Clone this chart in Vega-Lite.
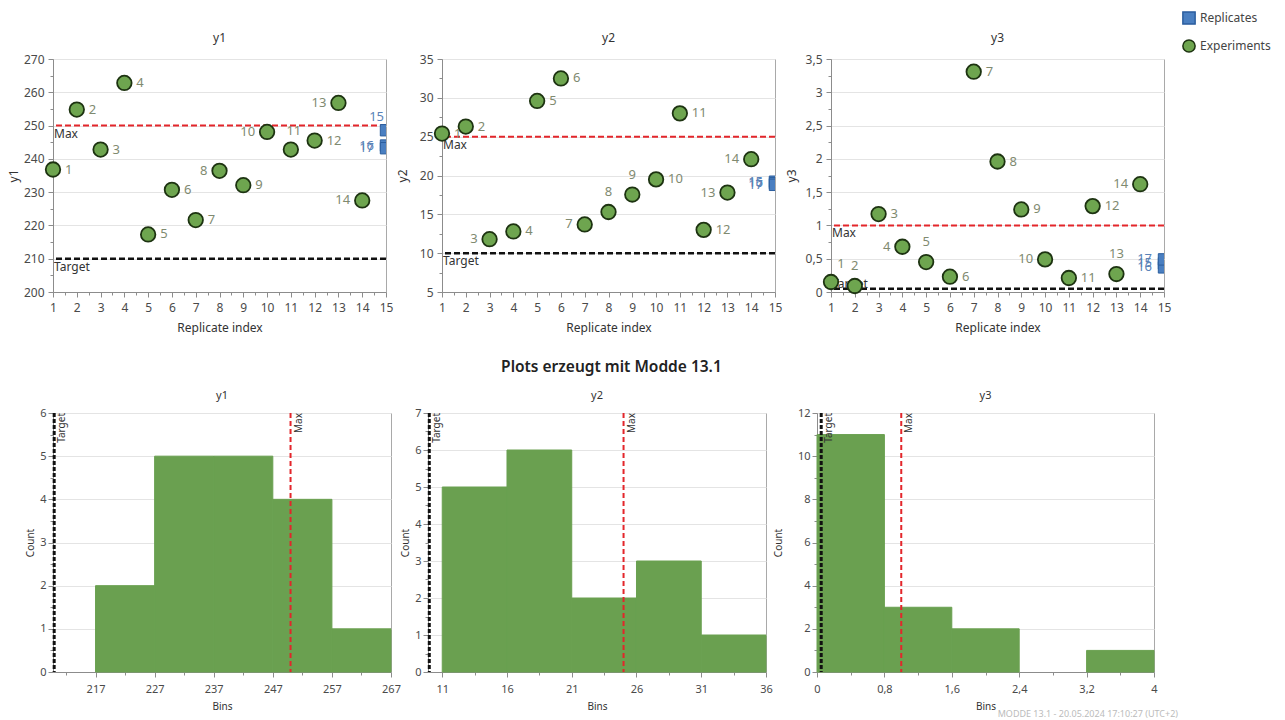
{
  "$schema": "https://vega.github.io/schema/vega-lite/v6.json",
  "padding": {"left": 6, "top": 11, "right": 5, "bottom": 0},
  "background": "white",
  "datasets": {
    "pts": [
      {"run": 1, "idx": 1, "type": "Experiments", "y1": 236.8, "y2": 25.4, "y3": 0.15},
      {"run": 2, "idx": 2, "type": "Experiments", "y1": 254.8, "y2": 26.3, "y3": 0.09},
      {"run": 3, "idx": 3, "type": "Experiments", "y1": 242.8, "y2": 11.8, "y3": 1.17},
      {"run": 4, "idx": 4, "type": "Experiments", "y1": 262.8, "y2": 12.8, "y3": 0.68},
      {"run": 5, "idx": 5, "type": "Experiments", "y1": 217.3, "y2": 29.6, "y3": 0.45},
      {"run": 6, "idx": 6, "type": "Experiments", "y1": 230.7, "y2": 32.5, "y3": 0.23},
      {"run": 7, "idx": 7, "type": "Experiments", "y1": 221.6, "y2": 13.7, "y3": 3.31},
      {"run": 8, "idx": 8, "type": "Experiments", "y1": 236.4, "y2": 15.3, "y3": 1.96},
      {"run": 9, "idx": 9, "type": "Experiments", "y1": 232.1, "y2": 17.55, "y3": 1.24},
      {"run": 10, "idx": 10, "type": "Experiments", "y1": 248.1, "y2": 19.5, "y3": 0.49},
      {"run": 11, "idx": 11, "type": "Experiments", "y1": 242.8, "y2": 28.0, "y3": 0.21},
      {"run": 12, "idx": 12, "type": "Experiments", "y1": 245.5, "y2": 13.0, "y3": 1.29},
      {"run": 13, "idx": 13, "type": "Experiments", "y1": 256.8, "y2": 17.8, "y3": 0.27},
      {"run": 14, "idx": 14, "type": "Experiments", "y1": 227.5, "y2": 22.1, "y3": 1.62},
      {"run": 15, "idx": 15, "type": "Replicates", "y1": 248.6, "y2": 19.2, "y3": 0.43},
      {"run": 16, "idx": 15, "type": "Replicates", "y1": 244.0, "y2": 19.0, "y3": 0.37},
      {"run": 17, "idx": 15, "type": "Replicates", "y1": 243.2, "y2": 18.8, "y3": 0.49}
    ],
    "limits": [
      {"resp": "y1", "target": 210, "max": 250, "top": 6},
      {"resp": "y2", "target": 10, "max": 25, "top": 7},
      {"resp": "y3", "target": 0.05, "max": 1, "top": 12}
    ],
    "bins": [
      {"resp": "y1", "lo": 217, "hi": 227, "count": 2},
      {"resp": "y1", "lo": 227, "hi": 237, "count": 5},
      {"resp": "y1", "lo": 237, "hi": 247, "count": 5},
      {"resp": "y1", "lo": 247, "hi": 257, "count": 4},
      {"resp": "y1", "lo": 257, "hi": 267, "count": 1},
      {"resp": "y2", "lo": 11, "hi": 16, "count": 5},
      {"resp": "y2", "lo": 16, "hi": 21, "count": 6},
      {"resp": "y2", "lo": 21, "hi": 26, "count": 2},
      {"resp": "y2", "lo": 26, "hi": 31, "count": 3},
      {"resp": "y2", "lo": 31, "hi": 36, "count": 1},
      {"resp": "y3", "lo": 0, "hi": 0.8, "count": 11},
      {"resp": "y3", "lo": 0.8, "hi": 1.6, "count": 3},
      {"resp": "y3", "lo": 1.6, "hi": 2.4, "count": 2},
      {"resp": "y3", "lo": 2.4, "hi": 3.2, "count": 0},
      {"resp": "y3", "lo": 3.2, "hi": 4, "count": 1}
    ]
  },
  "config": {
    "font": "Noto Sans",
    "view": {"stroke": "#a9a9a9", "strokeWidth": 1},
    "axis": {"domainColor": "#8c8c8c", "tickColor": "#8c8c8c", "labelColor": "#4a4a4a", "titleColor": "#333333", "gridColor": "#e4e4e4", "labelFontSize": 12, "titleFontSize": 12, "titleFontWeight": "normal", "labelPadding": 2, "titlePadding": 4},
    "title": {"fontSize": 12, "fontWeight": "normal", "color": "#333333"},
    "legend": {"labelFontSize": 12, "labelColor": "#444444", "symbolSize": 150, "rowPadding": 8, "symbolStrokeWidth": 1.5}
  },
  "title": {"text": "MODDE 13.1 - 20.05.2024 17:10:27 (UTC+2)", "orient": "bottom", "anchor": "end", "fontSize": 9, "color": "#bbbbbb", "fontWeight": "normal", "offset": -2, "dx": -93},
  "spacing": 26,
  "vconcat": [
    {
      "spacing": 1,
      "hconcat": [
        {
          "width": 333, "height": 233,
          "title": {"text": "y1", "offset": 8},
          "layer": [
            {"data": {"name": "limits"}, "transform": [{"filter": "datum.resp=='y1'"}],
             "mark": {"type": "rule", "color": "#111111", "strokeDash": [6, 3], "strokeWidth": 2.5},
             "encoding": {"y": {"field": "target", "type": "quantitative", "scale": {"domain": [200, 270], "nice": false, "zero": false},
               "axis": {"title": "y1", "values": [200,205,210,215,220,225,230,235,240,245,250,255,260,265,270], "tickCount": 100, "format": ".4~g", "labelExpr": "datum.value % 10 ? '' : datum.label", "labelOverlap": false, "labelFlush": false, "labelPadding": 4, "minExtent": 27, "maxExtent": 27, "titlePadding": 6, "tickSize": {"condition": {"test": "datum.value % 10 != 0", "value": 3}, "value": 5}, "grid": true, "gridOpacity": {"condition": {"test": "datum.value % 10 != 0", "value": 0}, "value": 1}}}}},
            {"data": {"name": "limits"}, "transform": [{"filter": "datum.resp=='y1'"}],
             "mark": {"type": "rule", "color": "#e3262b", "strokeDash": [6, 3], "strokeWidth": 2},
             "encoding": {"y": {"field": "max", "type": "quantitative"}}},
            {"data": {"name": "limits"}, "transform": [{"filter": "datum.resp=='y1'"}],
             "mark": {"type": "text", "align": "left", "baseline": "top", "dx": 1, "dy": 3, "fontSize": 12, "color": "#333333"},
             "encoding": {"x": {"datum": 1, "type": "quantitative"}, "y": {"field": "max", "type": "quantitative"}, "text": {"value": "Max"}}},
            {"data": {"name": "limits"}, "transform": [{"filter": "datum.resp=='y1'"}],
             "mark": {"type": "text", "align": "left", "baseline": "top", "dx": 1, "dy": 3, "fontSize": 12, "color": "#333333"},
             "encoding": {"x": {"datum": 1, "type": "quantitative"}, "y": {"field": "target", "type": "quantitative"}, "text": {"value": "Target"}}},
            {"data": {"name": "pts"}, "transform": [{"filter": "datum.type=='Experiments'"}],
             "mark": {"type": "point", "filled": true, "size": 210, "fill": "#6ea54f", "stroke": "#1d3311", "strokeWidth": 1.8, "opacity": 1},
             "encoding": {"x": {"field": "idx", "type": "quantitative", "scale": {"domain": [1, 15], "nice": false, "zero": false},
               "axis": {"title": "Replicate index", "values": [1,1.5,2,2.5,3,3.5,4,4.5,5,5.5,6,6.5,7,7.5,8,8.5,9,9.5,10,10.5,11,11.5,12,12.5,13,13.5,14,14.5,15], "tickCount": 100, "format": ".4~g", "labelExpr": "datum.value % 1 ? '' : datum.label", "labelOverlap": false, "labelFlush": false, "labelPadding": 5, "titlePadding": 9, "tickSize": {"condition": {"test": "datum.value % 1 != 0", "value": 3}, "value": 5}, "grid": false}},
               "y": {"field": "y1", "type": "quantitative", "scale": {"domain": [200, 270], "nice": false, "zero": false}}}},
            {"data": {"name": "pts"}, "transform": [{"filter": "datum.type=='Replicates'"}],
             "mark": {"type": "square", "size": 130, "fill": "#4a7fc1", "stroke": "#2b5e9e", "strokeWidth": 1, "opacity": 1, "clip": true},
             "encoding": {"x": {"field": "idx", "type": "quantitative"}, "y": {"field": "y1", "type": "quantitative"}}},
            {"data": {"name": "pts"}, "transform": [{"filter": "indexof([1,2,3,4,5,6,7,9,12], datum.run) >= 0"}],
             "mark": {"type": "text", "align": "left", "baseline": "middle", "dx": 12, "fontSize": 13},
             "encoding": {"x": {"field": "idx", "type": "quantitative"}, "y": {"field": "y1", "type": "quantitative"}, "text": {"field": "run", "type": "nominal"}, "color": {"condition": {"test": "datum.type=='Replicates'", "value": "#5a83b8"}, "value": "#7f8a70"}}},
            {"data": {"name": "pts"}, "transform": [{"filter": "indexof([8,10,13,14,16,17], datum.run) >= 0"}],
             "mark": {"type": "text", "align": "right", "baseline": "middle", "dx": -12, "fontSize": 13},
             "encoding": {"x": {"field": "idx", "type": "quantitative"}, "y": {"field": "y1", "type": "quantitative"}, "text": {"field": "run", "type": "nominal"}, "color": {"condition": {"test": "datum.type=='Replicates'", "value": "#5a83b8"}, "value": "#7f8a70"}}},
            {"data": {"name": "pts"}, "transform": [{"filter": "indexof([11], datum.run) >= 0"}],
             "mark": {"type": "text", "align": "center", "baseline": "middle", "dx": 3, "dy": -19, "fontSize": 13},
             "encoding": {"x": {"field": "idx", "type": "quantitative"}, "y": {"field": "y1", "type": "quantitative"}, "text": {"field": "run", "type": "nominal"}, "color": {"condition": {"test": "datum.type=='Replicates'", "value": "#5a83b8"}, "value": "#7f8a70"}}},
            {"data": {"name": "pts"}, "transform": [{"filter": "indexof([15], datum.run) >= 0"}],
             "mark": {"type": "text", "align": "right", "baseline": "middle", "dx": -2, "dy": -13, "fontSize": 13},
             "encoding": {"x": {"field": "idx", "type": "quantitative"}, "y": {"field": "y1", "type": "quantitative"}, "text": {"field": "run", "type": "nominal"}, "color": {"condition": {"test": "datum.type=='Replicates'", "value": "#5a83b8"}, "value": "#7f8a70"}}}
          ]
        },
        {
          "width": 333, "height": 233,
          "title": {"text": "y2", "offset": 8},
          "layer": [
            {"data": {"name": "limits"}, "transform": [{"filter": "datum.resp=='y2'"}],
             "mark": {"type": "rule", "color": "#111111", "strokeDash": [6, 3], "strokeWidth": 2.5},
             "encoding": {"y": {"field": "target", "type": "quantitative", "scale": {"domain": [5, 35], "nice": false, "zero": false},
               "axis": {"title": "y2", "values": [5,7.5,10,12.5,15,17.5,20,22.5,25,27.5,30,32.5,35], "tickCount": 100, "format": ".4~g", "labelExpr": "datum.value % 5 ? '' : datum.label", "labelOverlap": false, "labelFlush": false, "labelPadding": 4, "minExtent": 27, "maxExtent": 27, "titlePadding": 6, "tickSize": {"condition": {"test": "datum.value % 5 != 0", "value": 3}, "value": 5}, "grid": true, "gridOpacity": {"condition": {"test": "datum.value % 5 != 0", "value": 0}, "value": 1}}}}},
            {"data": {"name": "limits"}, "transform": [{"filter": "datum.resp=='y2'"}],
             "mark": {"type": "rule", "color": "#e3262b", "strokeDash": [6, 3], "strokeWidth": 2},
             "encoding": {"y": {"field": "max", "type": "quantitative"}}},
            {"data": {"name": "limits"}, "transform": [{"filter": "datum.resp=='y2'"}],
             "mark": {"type": "text", "align": "left", "baseline": "top", "dx": 1, "dy": 3, "fontSize": 12, "color": "#333333"},
             "encoding": {"x": {"datum": 1, "type": "quantitative"}, "y": {"field": "max", "type": "quantitative"}, "text": {"value": "Max"}}},
            {"data": {"name": "limits"}, "transform": [{"filter": "datum.resp=='y2'"}],
             "mark": {"type": "text", "align": "left", "baseline": "top", "dx": 1, "dy": 3, "fontSize": 12, "color": "#333333"},
             "encoding": {"x": {"datum": 1, "type": "quantitative"}, "y": {"field": "target", "type": "quantitative"}, "text": {"value": "Target"}}},
            {"data": {"name": "pts"}, "transform": [{"filter": "datum.type=='Experiments'"}],
             "mark": {"type": "point", "filled": true, "size": 210, "fill": "#6ea54f", "stroke": "#1d3311", "strokeWidth": 1.8, "opacity": 1},
             "encoding": {"x": {"field": "idx", "type": "quantitative", "scale": {"domain": [1, 15], "nice": false, "zero": false},
               "axis": {"title": "Replicate index", "values": [1,1.5,2,2.5,3,3.5,4,4.5,5,5.5,6,6.5,7,7.5,8,8.5,9,9.5,10,10.5,11,11.5,12,12.5,13,13.5,14,14.5,15], "tickCount": 100, "format": ".4~g", "labelExpr": "datum.value % 1 ? '' : datum.label", "labelOverlap": false, "labelFlush": false, "labelPadding": 5, "titlePadding": 9, "tickSize": {"condition": {"test": "datum.value % 1 != 0", "value": 3}, "value": 5}, "grid": false}},
               "y": {"field": "y2", "type": "quantitative", "scale": {"domain": [5, 35], "nice": false, "zero": false}}}},
            {"data": {"name": "pts"}, "transform": [{"filter": "datum.type=='Replicates'"}],
             "mark": {"type": "square", "size": 130, "fill": "#4a7fc1", "stroke": "#2b5e9e", "strokeWidth": 1, "opacity": 1, "clip": true},
             "encoding": {"x": {"field": "idx", "type": "quantitative"}, "y": {"field": "y2", "type": "quantitative"}}},
            {"data": {"name": "pts"}, "transform": [{"filter": "indexof([1,2,4,5,6,10,11,12], datum.run) >= 0"}],
             "mark": {"type": "text", "align": "left", "baseline": "middle", "dx": 12, "fontSize": 13},
             "encoding": {"x": {"field": "idx", "type": "quantitative"}, "y": {"field": "y2", "type": "quantitative"}, "text": {"field": "run", "type": "nominal"}, "color": {"condition": {"test": "datum.type=='Replicates'", "value": "#5a83b8"}, "value": "#7f8a70"}}},
            {"data": {"name": "pts"}, "transform": [{"filter": "indexof([3,7,13,14,15,16,17], datum.run) >= 0"}],
             "mark": {"type": "text", "align": "right", "baseline": "middle", "dx": -12, "fontSize": 13},
             "encoding": {"x": {"field": "idx", "type": "quantitative"}, "y": {"field": "y2", "type": "quantitative"}, "text": {"field": "run", "type": "nominal"}, "color": {"condition": {"test": "datum.type=='Replicates'", "value": "#5a83b8"}, "value": "#7f8a70"}}},
            {"data": {"name": "pts"}, "transform": [{"filter": "indexof([8,9], datum.run) >= 0"}],
             "mark": {"type": "text", "align": "center", "baseline": "middle", "dy": -20, "fontSize": 13},
             "encoding": {"x": {"field": "idx", "type": "quantitative"}, "y": {"field": "y2", "type": "quantitative"}, "text": {"field": "run", "type": "nominal"}, "color": {"condition": {"test": "datum.type=='Replicates'", "value": "#5a83b8"}, "value": "#7f8a70"}}}
          ]
        },
        {
          "width": 333, "height": 233,
          "title": {"text": "y3", "offset": 8},
          "layer": [
            {"data": {"name": "limits"}, "transform": [{"filter": "datum.resp=='y3'"}],
             "mark": {"type": "rule", "color": "#111111", "strokeDash": [6, 3], "strokeWidth": 2.5},
             "encoding": {"y": {"field": "target", "type": "quantitative", "scale": {"domain": [0, 3.5], "nice": false, "zero": false},
               "axis": {"title": "y3", "values": [0,0.25,0.5,0.75,1,1.25,1.5,1.75,2,2.25,2.5,2.75,3,3.25,3.5], "tickCount": 100, "format": ".2~f", "labelExpr": "(datum.value*4) % 2 ? '' : replace(datum.label, '.', ',')", "labelOverlap": false, "labelFlush": false, "labelPadding": 4, "minExtent": 27, "maxExtent": 27, "titlePadding": 6, "tickSize": {"condition": {"test": "(datum.value*4) % 2 != 0", "value": 3}, "value": 5}, "grid": true, "gridOpacity": {"condition": {"test": "(datum.value*4) % 2 != 0", "value": 0}, "value": 1}}}}},
            {"data": {"name": "limits"}, "transform": [{"filter": "datum.resp=='y3'"}],
             "mark": {"type": "rule", "color": "#e3262b", "strokeDash": [6, 3], "strokeWidth": 2},
             "encoding": {"y": {"field": "max", "type": "quantitative"}}},
            {"data": {"name": "limits"}, "transform": [{"filter": "datum.resp=='y3'"}],
             "mark": {"type": "text", "align": "left", "baseline": "top", "dx": 1, "dy": 3, "fontSize": 12, "color": "#333333"},
             "encoding": {"x": {"datum": 1, "type": "quantitative"}, "y": {"field": "max", "type": "quantitative"}, "text": {"value": "Max"}}},
            {"data": {"name": "limits"}, "transform": [{"filter": "datum.resp=='y3'"}],
             "mark": {"type": "text", "align": "left", "baseline": "bottom", "dx": 1, "dy": 2, "fontSize": 12, "color": "#333333"},
             "encoding": {"x": {"datum": 1, "type": "quantitative"}, "y": {"field": "target", "type": "quantitative"}, "text": {"value": "Target"}}},
            {"data": {"name": "pts"}, "transform": [{"filter": "datum.type=='Experiments'"}],
             "mark": {"type": "point", "filled": true, "size": 210, "strokeWidth": 1.8, "opacity": 1},
             "encoding": {"x": {"field": "idx", "type": "quantitative", "scale": {"domain": [1, 15], "nice": false, "zero": false},
               "axis": {"title": "Replicate index", "values": [1,1.5,2,2.5,3,3.5,4,4.5,5,5.5,6,6.5,7,7.5,8,8.5,9,9.5,10,10.5,11,11.5,12,12.5,13,13.5,14,14.5,15], "tickCount": 100, "format": ".4~g", "labelExpr": "datum.value % 1 ? '' : datum.label", "labelOverlap": false, "labelFlush": false, "labelPadding": 5, "titlePadding": 9, "tickSize": {"condition": {"test": "datum.value % 1 != 0", "value": 3}, "value": 5}, "grid": false}},
               "y": {"field": "y3", "type": "quantitative", "scale": {"domain": [0, 3.5], "nice": false, "zero": false}},
               "color": {"field": "type", "type": "nominal", "scale": {"domain": ["Replicates", "Experiments"], "range": ["#4a7fc1", "#6ea54f"]}, "legend": {"title": null, "orient": "none", "legendX": 1129, "legendY": -48}},
               "shape": {"field": "type", "type": "nominal", "scale": {"domain": ["Replicates", "Experiments"], "range": ["square", "circle"]}},
               "stroke": {"field": "type", "type": "nominal", "scale": {"domain": ["Replicates", "Experiments"], "range": ["#2b5e9e", "#1d3311"]}}}},
            {"data": {"name": "pts"}, "transform": [{"filter": "datum.type=='Replicates'"}],
             "mark": {"type": "point", "filled": true, "size": 130, "strokeWidth": 1, "opacity": 1, "clip": true},
             "encoding": {"x": {"field": "idx", "type": "quantitative"}, "y": {"field": "y3", "type": "quantitative"},
               "color": {"field": "type", "type": "nominal"},
               "shape": {"field": "type", "type": "nominal"},
               "stroke": {"field": "type", "type": "nominal"}}},
            {"data": {"name": "pts"}, "transform": [{"filter": "indexof([3,6,7,8,9,11,12], datum.run) >= 0"}],
             "mark": {"type": "text", "align": "left", "baseline": "middle", "dx": 12, "fontSize": 13},
             "encoding": {"x": {"field": "idx", "type": "quantitative"}, "y": {"field": "y3", "type": "quantitative"}, "text": {"field": "run", "type": "nominal"}, "color": {"condition": {"test": "datum.type=='Replicates'", "value": "#5a83b8"}, "value": "#7f8a70"}}},
            {"data": {"name": "pts"}, "transform": [{"filter": "indexof([4,10,14,15,16,17], datum.run) >= 0"}],
             "mark": {"type": "text", "align": "right", "baseline": "middle", "dx": -12, "fontSize": 13},
             "encoding": {"x": {"field": "idx", "type": "quantitative"}, "y": {"field": "y3", "type": "quantitative"}, "text": {"field": "run", "type": "nominal"}, "color": {"condition": {"test": "datum.type=='Replicates'", "value": "#5a83b8"}, "value": "#7f8a70"}}},
            {"data": {"name": "pts"}, "transform": [{"filter": "indexof([2,5,13], datum.run) >= 0"}],
             "mark": {"type": "text", "align": "center", "baseline": "middle", "dy": -20, "fontSize": 13},
             "encoding": {"x": {"field": "idx", "type": "quantitative"}, "y": {"field": "y3", "type": "quantitative"}, "text": {"field": "run", "type": "nominal"}, "color": {"condition": {"test": "datum.type=='Replicates'", "value": "#5a83b8"}, "value": "#7f8a70"}}},
            {"data": {"name": "pts"}, "transform": [{"filter": "indexof([1], datum.run) >= 0"}],
             "mark": {"type": "text", "align": "center", "baseline": "middle", "dx": 10, "dy": -18, "fontSize": 13},
             "encoding": {"x": {"field": "idx", "type": "quantitative"}, "y": {"field": "y3", "type": "quantitative"}, "text": {"field": "run", "type": "nominal"}, "color": {"condition": {"test": "datum.type=='Replicates'", "value": "#5a83b8"}, "value": "#7f8a70"}}}
          ]
        }
      ]
    },
    {
      "spacing": -1,
      "title": {"text": "Plots erzeugt mit Modde 13.1", "fontSize": 15.5, "fontWeight": 600, "color": "#222222", "anchor": "middle", "offset": 14, "dx": 20},
      "hconcat": [
        {
          "width": 338, "height": 259,
          "title": {"text": "y1", "fontSize": 11, "offset": 6},
          "layer": [
            {"data": {"name": "bins"}, "transform": [{"filter": "datum.resp=='y1'"}],
             "mark": {"type": "bar", "fill": "#6aa050", "stroke": "#6aa050"},
             "encoding": {"x": {"field": "lo", "type": "quantitative", "scale": {"domain": [209.8, 267], "nice": false, "zero": false},
               "axis": {"title": "Bins", "titleFontSize": 10, "labelFontSize": 11, "values": [212,217,222,227,232,237,242,247,252,257,262,267], "tickCount": 100, "format": "d", "labelExpr": "(datum.value-217) % 10 ? '' : datum.label", "labelOverlap": false, "labelFlush": false, "labelPadding": 6, "titlePadding": 7, "tickSize": {"condition": {"test": "(datum.value-217) % 10 != 0", "value": 3}, "value": 5}, "grid": false}},
               "x2": {"field": "hi"},
               "y": {"field": "count", "type": "quantitative", "scale": {"domain": [0, 6], "nice": false},
                 "axis": {"title": "Count", "titleFontSize": 10, "labelFontSize": 11, "values": [0,0.5,1,1.5,2,2.5,3,3.5,4,4.5,5,5.5,6], "tickCount": 100, "format": ".2~f", "labelExpr": "datum.value % 1 ? '' : datum.label", "labelOverlap": false, "labelFlush": false, "tickSize": {"condition": {"test": "datum.value % 1 != 0", "value": 3}, "value": 5}, "grid": true, "gridOpacity": {"condition": {"test": "datum.value % 1 != 0", "value": 0}, "value": 1}}},
               "y2": {"datum": 0},
               "strokeWidth": {"condition": {"test": "datum.count == 0", "value": 0}, "value": 1}}},
            {"data": {"name": "limits"}, "transform": [{"filter": "datum.resp=='y1'"}],
             "mark": {"type": "rule", "color": "#111111", "strokeDash": [4, 2], "strokeWidth": 3},
             "encoding": {"x": {"field": "target", "type": "quantitative"}}},
            {"data": {"name": "limits"}, "transform": [{"filter": "datum.resp=='y1'"}],
             "mark": {"type": "rule", "color": "#e3262b", "strokeDash": [5, 3], "strokeWidth": 2},
             "encoding": {"x": {"field": "max", "type": "quantitative"}}},
            {"data": {"name": "limits"}, "transform": [{"filter": "datum.resp=='y1'"}],
             "mark": {"type": "text", "angle": 270, "align": "right", "baseline": "top", "dy": 3, "fontSize": 10, "color": "#333333"},
             "encoding": {"x": {"field": "target", "type": "quantitative"}, "y": {"field": "top", "type": "quantitative"}, "text": {"value": "Target"}}},
            {"data": {"name": "limits"}, "transform": [{"filter": "datum.resp=='y1'"}],
             "mark": {"type": "text", "angle": 270, "align": "right", "baseline": "top", "dy": 3, "fontSize": 10, "color": "#333333"},
             "encoding": {"x": {"field": "max", "type": "quantitative"}, "y": {"field": "top", "type": "quantitative"}, "text": {"value": "Max"}}}
          ]
        },
        {
          "width": 338, "height": 259,
          "title": {"text": "y2", "fontSize": 11, "offset": 6},
          "layer": [
            {"data": {"name": "bins"}, "transform": [{"filter": "datum.resp=='y2'"}],
             "mark": {"type": "bar", "fill": "#6aa050", "stroke": "#6aa050"},
             "encoding": {"x": {"field": "lo", "type": "quantitative", "scale": {"domain": [9.9, 36], "nice": false, "zero": false},
               "axis": {"title": "Bins", "titleFontSize": 10, "labelFontSize": 11, "values": [11,13.5,16,18.5,21,23.5,26,28.5,31,33.5,36], "tickCount": 100, "format": ".3~f", "labelExpr": "(datum.value-11) % 5 ? '' : datum.label", "labelOverlap": false, "labelFlush": false, "labelPadding": 6, "titlePadding": 7, "tickSize": {"condition": {"test": "(datum.value-11) % 5 != 0", "value": 3}, "value": 5}, "grid": false}},
               "x2": {"field": "hi"},
               "y": {"field": "count", "type": "quantitative", "scale": {"domain": [0, 7], "nice": false},
                 "axis": {"title": "Count", "titleFontSize": 10, "labelFontSize": 11, "values": [0,0.5,1,1.5,2,2.5,3,3.5,4,4.5,5,5.5,6,6.5,7], "tickCount": 100, "format": ".2~f", "labelExpr": "datum.value % 1 ? '' : datum.label", "labelOverlap": false, "labelFlush": false, "tickSize": {"condition": {"test": "datum.value % 1 != 0", "value": 3}, "value": 5}, "grid": true, "gridOpacity": {"condition": {"test": "datum.value % 1 != 0", "value": 0}, "value": 1}}},
               "y2": {"datum": 0},
               "strokeWidth": {"condition": {"test": "datum.count == 0", "value": 0}, "value": 1}}},
            {"data": {"name": "limits"}, "transform": [{"filter": "datum.resp=='y2'"}],
             "mark": {"type": "rule", "color": "#111111", "strokeDash": [4, 2], "strokeWidth": 3},
             "encoding": {"x": {"field": "target", "type": "quantitative"}}},
            {"data": {"name": "limits"}, "transform": [{"filter": "datum.resp=='y2'"}],
             "mark": {"type": "rule", "color": "#e3262b", "strokeDash": [5, 3], "strokeWidth": 2},
             "encoding": {"x": {"field": "max", "type": "quantitative"}}},
            {"data": {"name": "limits"}, "transform": [{"filter": "datum.resp=='y2'"}],
             "mark": {"type": "text", "angle": 270, "align": "right", "baseline": "top", "dy": 3, "fontSize": 10, "color": "#333333"},
             "encoding": {"x": {"field": "target", "type": "quantitative"}, "y": {"field": "top", "type": "quantitative"}, "text": {"value": "Target"}}},
            {"data": {"name": "limits"}, "transform": [{"filter": "datum.resp=='y2'"}],
             "mark": {"type": "text", "angle": 270, "align": "right", "baseline": "top", "dy": 3, "fontSize": 10, "color": "#333333"},
             "encoding": {"x": {"field": "max", "type": "quantitative"}, "y": {"field": "top", "type": "quantitative"}, "text": {"value": "Max"}}}
          ]
        },
        {
          "width": 337, "height": 259,
          "title": {"text": "y3", "fontSize": 11, "offset": 6},
          "layer": [
            {"data": {"name": "bins"}, "transform": [{"filter": "datum.resp=='y3'"}],
             "mark": {"type": "bar", "fill": "#6aa050", "stroke": "#6aa050"},
             "encoding": {"x": {"field": "lo", "type": "quantitative", "scale": {"domain": [0, 4], "nice": false, "zero": false},
               "axis": {"title": "Bins", "titleFontSize": 10, "labelFontSize": 11, "values": [0,0.4,0.8,1.2,1.6,2,2.4,2.8,3.2,3.6,4], "tickCount": 100, "format": ".1~f", "labelExpr": "round(datum.value*2.5) % 2 ? '' : replace(datum.label, '.', ',')", "labelOverlap": false, "labelFlush": false, "labelPadding": 6, "titlePadding": 7, "tickSize": {"condition": {"test": "round(datum.value*2.5) % 2 != 0", "value": 3}, "value": 5}, "grid": false}},
               "x2": {"field": "hi"},
               "y": {"field": "count", "type": "quantitative", "scale": {"domain": [0, 12], "nice": false},
                 "axis": {"title": "Count", "titleFontSize": 10, "labelFontSize": 11, "values": [0,1,2,3,4,5,6,7,8,9,10,11,12], "tickCount": 100, "format": "d", "labelExpr": "datum.value % 2 ? '' : datum.label", "labelOverlap": false, "labelFlush": false, "minExtent": 30, "tickSize": {"condition": {"test": "datum.value % 2 != 0", "value": 3}, "value": 5}, "grid": true, "gridOpacity": {"condition": {"test": "datum.value % 2 != 0", "value": 0}, "value": 1}}},
               "y2": {"datum": 0},
               "strokeWidth": {"condition": {"test": "datum.count == 0", "value": 0}, "value": 1}}},
            {"data": {"name": "limits"}, "transform": [{"filter": "datum.resp=='y3'"}],
             "mark": {"type": "rule", "color": "#111111", "strokeDash": [4, 2], "strokeWidth": 3},
             "encoding": {"x": {"field": "target", "type": "quantitative"}}},
            {"data": {"name": "limits"}, "transform": [{"filter": "datum.resp=='y3'"}],
             "mark": {"type": "rule", "color": "#e3262b", "strokeDash": [5, 3], "strokeWidth": 2},
             "encoding": {"x": {"field": "max", "type": "quantitative"}}},
            {"data": {"name": "limits"}, "transform": [{"filter": "datum.resp=='y3'"}],
             "mark": {"type": "text", "angle": 270, "align": "right", "baseline": "top", "dy": 3, "fontSize": 10, "color": "#333333"},
             "encoding": {"x": {"field": "target", "type": "quantitative"}, "y": {"field": "top", "type": "quantitative"}, "text": {"value": "Target"}}},
            {"data": {"name": "limits"}, "transform": [{"filter": "datum.resp=='y3'"}],
             "mark": {"type": "text", "angle": 270, "align": "right", "baseline": "top", "dy": 3, "fontSize": 10, "color": "#333333"},
             "encoding": {"x": {"field": "max", "type": "quantitative"}, "y": {"field": "top", "type": "quantitative"}, "text": {"value": "Max"}}}
          ]
        }
      ]
    }
  ]
}
